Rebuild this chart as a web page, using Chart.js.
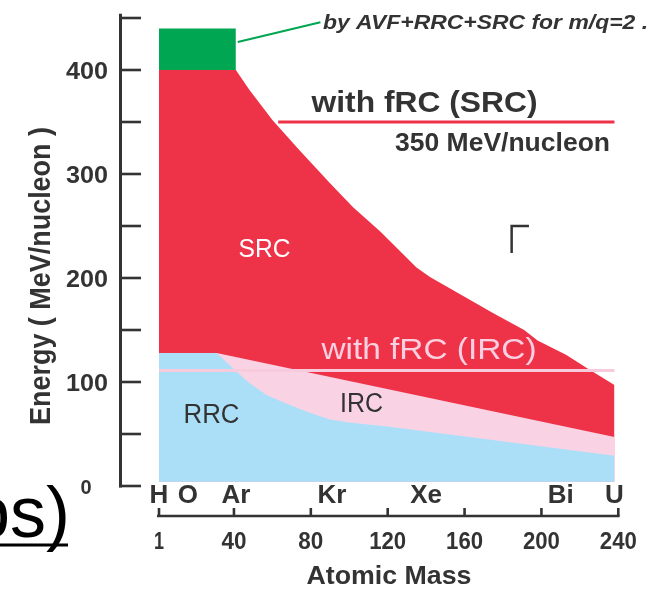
<!DOCTYPE html>
<html><head><meta charset="utf-8">
<script src="https://cdn.jsdelivr.net/npm/chart.js@4/dist/chart.umd.min.js"></script>
<style>html,body{margin:0;padding:0;background:#fff;overflow:hidden}canvas{display:block}</style>
</head><body>
<canvas id="c" width="663" height="597"></canvas>
<script>
// ---------- data ----------
const massTicks = [1, 40, 80, 120, 160, 200, 240];
const massTickLabels = ['1', '40', '80', '120', '160', '200', '240'];
const energyTicks = [0, 50, 100, 150, 200, 250, 300, 350, 400, 450];
const energyLabelValues = [0, 100, 200, 300, 400];
const energyLabels = ['0', '100', '200', '300', '400'];
const elementNames = ['H', 'O', 'Ar', 'Kr', 'Xe', 'Bi', 'U'];
const elementLabelMass = [1, 16, 41, 91, 140, 210, 238];

// AVF+RRC+SRC (green block)
const avfMass = [1, 41];
const avfTop = [440, 440];
const avfBottom = 400;
// SRC upper boundary (red)
const srcMass = [1, 41, 48, 60, 74, 90, 102, 116, 135, 142, 175, 191, 198, 213, 224, 231, 238];
const srcEnergy = [400, 400, 381, 352, 323, 291, 268, 245, 210, 201, 166, 150, 140, 126, 113, 105, 97];
// IRC upper boundary (pink)
const ircMass = [1, 31, 238];
const ircEnergy = [128, 128, 47];
// RRC upper boundary (blue)
const rrcMass = [1, 31, 42, 48, 57, 65, 78, 90, 100, 121, 238];
const rrcEnergy = [128, 128, 109, 99, 87.5, 81, 71.4, 64, 61, 57, 29];
const floorEnergy = 4;
// "with fRC" levels
const frcIrcMass = [1, 238];
const frcIrcEnergy = [111, 111];
const frcSrcMass = [63, 238];
const frcSrcEnergy = [350, 350];
// pointer from the green block to its note
const pointerMass = [42, 85];
const pointerEnergy = [427, 446];
// small corner mark
const cornerMass = [193.5, 184.5, 184.5];
const cornerEnergy = [250, 250, 224];

// ---------- styling ----------
const FONT = '"Liberation Sans", Arial, Helvetica, sans-serif';
const DARK = '#333333';
const GREEN = '#00A651';
const RED = '#EE3349';
const PINK = '#F9D3E4';
const BLUE = '#ABDFF7';
const PINKLINE = '#F8CBDC';

const pts = (xs, ys) => xs.map((x, i) => ({x: x, y: ys[i]}));

function drawText(ctx, text, x, y, font, color, align, width) {
  ctx.save();
  ctx.font = font;
  ctx.fillStyle = color;
  ctx.textBaseline = 'alphabetic';
  ctx.textAlign = 'left';
  const m = ctx.measureText(text).width;
  const w = width || m;
  const s = w / m;
  const left = align === 'center' ? x - w / 2 : (align === 'right' ? x - w : x);
  ctx.translate(left, y);
  ctx.scale(s, 1);
  ctx.fillText(text, 0, 0);
  ctx.restore();
}

const decor = {
  id: 'decor',
  afterDatasetsDraw(chart) {
    const ctx = chart.ctx;
    const xs = chart.scales.x, ys = chart.scales.y;
    const X = v => xs.getPixelForValue(v);
    const Y = v => ys.getPixelForValue(v);
    ctx.save();
    ctx.strokeStyle = DARK;
    ctx.lineCap = 'butt';
    // y axis
    const ax = 120.5;
    ctx.lineWidth = 3;
    ctx.beginPath(); ctx.moveTo(ax, Y(454)); ctx.lineTo(ax, Y(0) + 1.5); ctx.stroke();
    ctx.lineWidth = 2.6;
    energyTicks.forEach(v => {
      ctx.beginPath(); ctx.moveTo(ax - 1.5, Y(v)); ctx.lineTo(141, Y(v)); ctx.stroke();
    });
    energyLabelValues.forEach((v, i) => {
      if (v === 0) {
        drawText(ctx, energyLabels[i], 86, Y(v) + 7.5, 'bold 20px ' + FONT, DARK, 'center');
      } else {
        drawText(ctx, energyLabels[i], 108, Y(v) + 8.5, 'bold 24px ' + FONT, DARK, 'right', 42);
      }
    });
    // x axis
    const ay = 516;
    ctx.lineWidth = 2.6;
    ctx.beginPath(); ctx.moveTo(X(massTicks[0]) - 2, ay); ctx.lineTo(X(240) + 1.3, ay); ctx.stroke();
    massTicks.forEach(v => {
      ctx.beginPath(); ctx.moveTo(X(v), ay); ctx.lineTo(X(v), 508); ctx.stroke();
    });
    massTickLabels.forEach((t, i) => {
      const w = t.length === 1 ? 10 : (t.length === 2 ? 25 : 37);
      drawText(ctx, t, X(massTicks[i]), 549, 'bold 24px ' + FONT, DARK, 'center', w);
    });
    elementNames.forEach((t, i) => {
      drawText(ctx, t, X(elementLabelMass[i]), 503, 'bold 26px ' + FONT, DARK, 'center',
        ctx.measureText ? null : null);
    });
    // axis titles
    drawText(ctx, 'Atomic Mass', 389, 584, 'bold 25px ' + FONT, DARK, 'center', 165);
    ctx.save();
    ctx.translate(50, 276);
    ctx.rotate(-Math.PI / 2);
    drawText(ctx, 'Energy ( MeV/nucleon )', 0, 0, 'bold 29px ' + FONT, DARK, 'center', 298);
    ctx.restore();
    // in-plot labels
    drawText(ctx, 'SRC', 264.5, 256.5, '25px ' + FONT, '#FFFFFF', 'center', 52);
    drawText(ctx, 'with fRC (IRC)', 321.5, 358.5, '30px ' + FONT, '#FAD0E0', 'left', 215);
    drawText(ctx, 'IRC', 361.5, 411.5, '27px ' + FONT, DARK, 'center', 43);
    drawText(ctx, 'RRC', 211.5, 422.5, '27px ' + FONT, DARK, 'center', 56);
    drawText(ctx, 'with fRC (SRC)', 311.5, 112, 'bold 30px ' + FONT, DARK, 'left', 226);
    drawText(ctx, '350 MeV/nucleon', 395, 151, 'bold 26px ' + FONT, DARK, 'left', 215);
    drawText(ctx, 'by AVF+RRC+SRC for m/q=2 .', 323, 29, 'italic bold 20px ' + FONT, DARK, 'left', 325);
    // cut-off text at lower left
    drawText(ctx, 'ps)', -30, 537, '72px ' + FONT, '#000000', 'left');
    ctx.fillStyle = '#000000';
    ctx.fillRect(0, 543.5, 68, 3);
    ctx.restore();
  }
};

const lineDefaults = {pointRadius: 0, tension: 0, borderWidth: 0};

new Chart(document.getElementById('c'), {
  type: 'line',
  data: {
    datasets: [
      Object.assign({}, lineDefaults, {label: 'SRC', data: pts(srcMass, srcEnergy), backgroundColor: RED, borderColor: RED, fill: {value: floorEnergy}, order: 6}),
      Object.assign({}, lineDefaults, {label: 'AVF+RRC+SRC', data: pts(avfMass, avfTop), backgroundColor: GREEN, borderColor: GREEN, fill: {value: avfBottom}, order: 5}),
      Object.assign({}, lineDefaults, {label: 'IRC', data: pts(ircMass, ircEnergy), backgroundColor: PINK, borderColor: PINK, fill: {value: floorEnergy}, order: 4}),
      Object.assign({}, lineDefaults, {label: 'RRC', data: pts(rrcMass, rrcEnergy), backgroundColor: BLUE, borderColor: BLUE, fill: {value: floorEnergy}, order: 3}),
      Object.assign({}, lineDefaults, {label: 'fRC IRC', data: pts(frcIrcMass, frcIrcEnergy), borderColor: PINKLINE, borderWidth: 3, fill: false, order: 2}),
      Object.assign({}, lineDefaults, {label: 'fRC SRC', data: pts(frcSrcMass, frcSrcEnergy), borderColor: RED, borderWidth: 3, fill: false, order: 2}),
      Object.assign({}, lineDefaults, {label: 'pointer', data: pts(pointerMass, pointerEnergy), borderColor: GREEN, borderWidth: 2, fill: false, order: 1}),
      Object.assign({}, lineDefaults, {label: 'corner', data: pts(cornerMass, cornerEnergy), borderColor: DARK, borderWidth: 2.5, fill: false, order: 1})
    ]
  },
  options: {
    responsive: false,
    devicePixelRatio: 1,
    animation: false,
    events: [],
    layout: {padding: {left: 159, right: 44.7, top: 18, bottom: 111}},
    plugins: {legend: {display: false}, tooltip: {enabled: false}},
    scales: {
      x: {type: 'linear', min: 1, max: 240, display: false},
      y: {type: 'linear', min: 0, max: 450, display: false}
    }
  },
  plugins: [decor]
});
</script>
</body></html>
